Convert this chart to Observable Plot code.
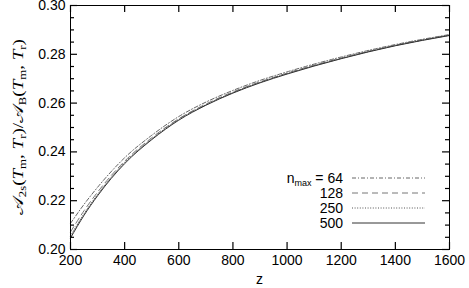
<!DOCTYPE html>
<html>
<head>
<meta charset="utf-8">
<script src="https://cdn.jsdelivr.net/npm/d3@7"></script>
<script src="https://cdn.jsdelivr.net/npm/@observablehq/plot@0.6"></script>
<style>
  html, body { margin: 0; padding: 0; background: #fff; }
  #chart { position: relative; width: 469px; height: 288px; }
</style>
</head>
<body>
<div id="chart"></div>
<script>
const zValues = [200, 250, 300, 400, 500, 600, 700, 800, 900, 1000, 1200, 1400, 1600];
const n64  = [0.2107, 0.2185, 0.2255, 0.2376, 0.2468, 0.2545, 0.2604, 0.2652, 0.2693, 0.2728, 0.2789, 0.2840, 0.2881];
const n128 = [0.2072, 0.2159, 0.2235, 0.2362, 0.2458, 0.2536, 0.2596, 0.2646, 0.2687, 0.2723, 0.2785, 0.2837, 0.2879];
const n250 = [0.2055, 0.2146, 0.2225, 0.2356, 0.2453, 0.2533, 0.2593, 0.2643, 0.2685, 0.2721, 0.2783, 0.2836, 0.2878];
const n500 = [0.2047, 0.2140, 0.2220, 0.2352, 0.2450, 0.2530, 0.2591, 0.2641, 0.2683, 0.2719, 0.2782, 0.2835, 0.2877];
const seriesNames = ["64", "128", "250", "500"];
const xTicks = [200, 400, 600, 800, 1000, 1200, 1400, 1600];
const yTicks = [0.20, 0.22, 0.24, 0.26, 0.28, 0.30];
const yMinor = [0.205,0.21,0.215,0.225,0.23,0.235,0.245,0.25,0.255,0.265,0.27,0.275,0.285,0.29,0.295];

(function () {
const seriesValues = [n64, n128, n250, n500];
const styles = {
  "64":  {stroke: "#666", dash: "4,2,1,2"},
  "128": {stroke: "#777", dash: "6,4"},
  "250": {stroke: "#555", dash: "1,1.6"},
  "500": {stroke: "#333", dash: null}
};
const rows = seriesNames.flatMap((n, i) => zValues.map((z, j) => ({n, z, v: seriesValues[i][j]})));

const font = "Liberation Sans, Arial, Helvetica, sans-serif";
const W = 469, H = 288, mL = 70, mR = 20, mT = 5, mB = 39;
const innerW = W - mL - mR, innerH = H - mT - mB;
const xDom = [200, 1600], yDom = [0.20, 0.30];
const majorLen = 7, minorLen = 4;
// tick lengths expressed in data units of each scale
const xMaj = (xDom[1] - xDom[0]) * majorLen / innerW;
const xMin = (xDom[1] - xDom[0]) * minorLen / innerW;
const yMaj = (yDom[1] - yDom[0]) * majorLen / innerH;

const plot = Plot.plot({
  width: W,
  height: H,
  marginLeft: mL,
  marginRight: mR,
  marginTop: mT,
  marginBottom: mB,
  style: {fontFamily: font, fontSize: "14px", background: "#fff", color: "#000"},
  x: {domain: xDom},
  y: {domain: yDom},
  marks: [
    ...seriesNames.map(n => Plot.line(rows.filter(d => d.n === n), {
      x: "z", y: "v", curve: "monotone-x",
      stroke: styles[n].stroke, strokeWidth: 1, strokeDasharray: styles[n].dash
    })),
    Plot.axisX({ticks: xTicks, tickSize: 0, tickPadding: 6, tickFormat: d => String(d), label: null, fontSize: 14}),
    Plot.axisY({ticks: yTicks, tickSize: 0, tickPadding: 5, tickFormat: d3.format(".2f"), label: null, fontSize: 14}),
    // inward ticks as short rules in data space
    Plot.ruleX(xTicks, {x: d => d, y1: yDom[0], y2: yDom[0] + yMaj, stroke: "#000", strokeWidth: 1.2}),
    Plot.ruleX(xTicks, {x: d => d, y1: yDom[1], y2: yDom[1] - yMaj, stroke: "#000", strokeWidth: 1.2}),
    Plot.ruleY(yTicks, {y: d => d, x1: xDom[0], x2: xDom[0] + xMaj, stroke: "#000", strokeWidth: 1.2}),
    Plot.ruleY(yTicks, {y: d => d, x1: xDom[1], x2: xDom[1] - xMaj, stroke: "#000", strokeWidth: 1.2}),
    Plot.ruleY(yMinor, {y: d => d, x1: xDom[0], x2: xDom[0] + xMin, stroke: "#000", strokeWidth: 1.2}),
    Plot.ruleY(yMinor, {y: d => d, x1: xDom[1], x2: xDom[1] - xMin, stroke: "#000", strokeWidth: 1.2}),
    Plot.frame({stroke: "#000", strokeWidth: 1})
  ]
});

document.getElementById("chart").appendChild(plot);

const svg = d3.select(plot);
const xs = plot.scale("x"), ys = plot.scale("y");
const pxLeft = xs.range[0], pxRight = xs.range[1];
const pxBottom = ys.range[0], pxTop = ys.range[1];

svg.append("text")
  .attr("x", (pxLeft + pxRight) / 2).attr("y", 284)
  .attr("text-anchor", "middle")
  .style("font-family", font).style("font-size", "14px")
  .text("z");

const yl = svg.append("text")
  .attr("transform", `translate(23,${(pxTop + pxBottom) / 2}) rotate(-90)`)
  .attr("text-anchor", "middle")
  .attr("textLength", 176)
  .attr("lengthAdjust", "spacingAndGlyphs")
  .style("font-family", "Liberation Serif, DejaVu Serif, serif")
  .style("font-size", "15px");
const parts = [
  ["𝒜", "c"], ["2s", "s"], ["(", "r"], ["T", "i"], ["m", "s"], [", ", "r"], ["T", "i"], ["r", "s"], [")/", "r"],
  ["𝒜", "c"], ["B", "s"], ["(", "r"], ["T", "i"], ["m", "s"], [", ", "r"], ["T", "i"], ["r", "s"], [")", "r"]
];
let sub = false;
parts.forEach(([t, k]) => {
  const ts = yl.append("tspan").text(t);
  if (k === "s") { ts.attr("dy", sub ? 0 : 3).style("font-size", "10px"); sub = true; }
  else { if (sub) ts.attr("dy", -3); sub = false; }
  if (k === "i") ts.style("font-style", "italic");
});

const lg = svg.append("g").style("font-family", font).style("font-size", "14px");
seriesNames.forEach((n, i) => {
  const yy = 178 + i * 15;
  const t = lg.append("text").attr("x", 343).attr("y", yy + 5).attr("text-anchor", "end");
  if (i === 0) {
    t.append("tspan").text("n");
    t.append("tspan").attr("dy", 3).style("font-size", "9px").text("max");
    t.append("tspan").attr("dy", -3).text(" = " + n);
  } else {
    t.text(n);
  }
  lg.append("line").attr("x1", 352).attr("x2", 425).attr("y1", yy).attr("y2", yy)
    .attr("stroke", styles[n].stroke).attr("stroke-width", 1)
    .attr("stroke-dasharray", styles[n].dash);
});
})();
</script>
</body>
</html>
